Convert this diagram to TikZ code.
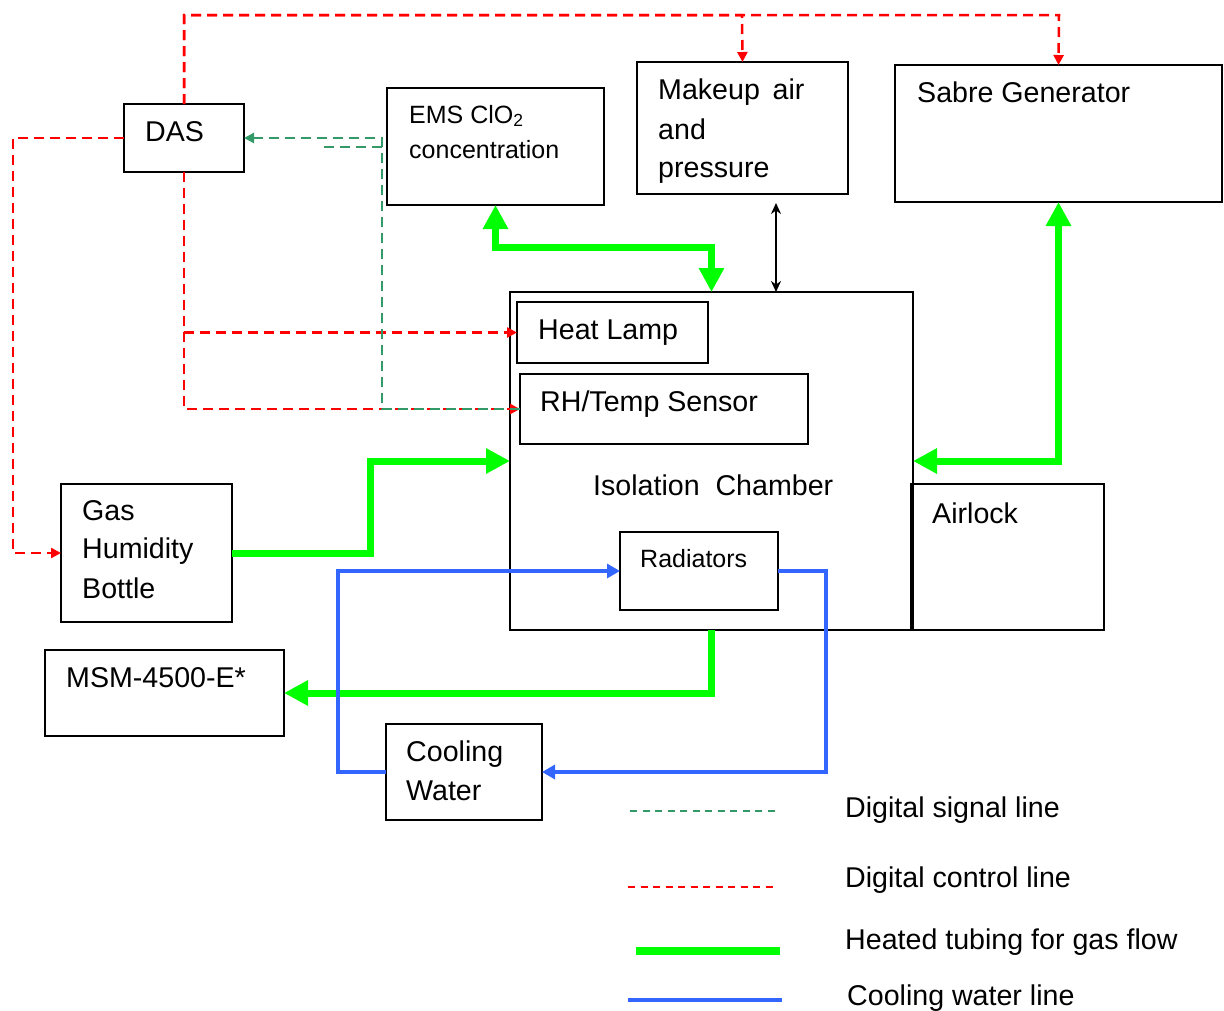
\documentclass[tikz,border=0pt]{standalone}
\usepackage{fontspec}
\setmainfont{Liberation Sans}
\usetikzlibrary{arrows.meta}
\definecolor{sigc}{RGB}{51,153,102}
\definecolor{gasg}{RGB}{0,255,0}
\definecolor{waterb}{RGB}{51,102,255}
\begin{document}
\begin{tikzpicture}[x=1pt,y=-1pt,
  box/.style={draw=black, line width=1.6pt, anchor=north west, inner sep=0pt, outer sep=0pt},
  txt/.style={anchor=base west, inner sep=0pt, font=\fontsize{28.6}{34}\selectfont},
  stxt/.style={anchor=base west, inner sep=0pt, font=\fontsize{25}{30}\selectfont},
  ctrl/.style={draw=red, line width=2.5pt, dash pattern=on 10pt off 6pt},
  ctip/.style={-{Triangle[length=10pt,width=10pt]}},
  sig/.style={draw=sigc, line width=2.5pt, dash pattern=on 10pt off 6pt},
  gas/.style={draw=gasg, line width=7pt},
  gtip/.style={-{Triangle[length=24pt,width=24pt]}},
  gtips/.style={{Triangle[length=24pt,width=24pt]}-{Triangle[length=24pt,width=24pt]}},
  water/.style={draw=waterb, line width=3.5pt},
  wtip/.style={-{Triangle[length=13pt,width=14pt]}}
]
\useasboundingbox (0,0) rectangle (1224,1010);

% boxes
\node[box, minimum width=120pt, minimum height=68pt] (das) at (124,104) {};
\node[box, minimum width=217pt, minimum height=117pt] (ems) at (387,88) {};
\node[box, minimum width=211pt, minimum height=132pt] (makeup) at (637,62) {};
\node[box, minimum width=327pt, minimum height=137pt] (sabre) at (895,65) {};
\node[box, minimum width=403pt, minimum height=338pt] (chamber) at (510,292) {};
\node[box, minimum width=191pt, minimum height=61pt] (lamp) at (517,302) {};
\node[box, minimum width=288pt, minimum height=70pt] (rh) at (520,374) {};
\node[box, minimum width=193pt, minimum height=146pt] (airlock) at (911,484) {};
\node[box, minimum width=158pt, minimum height=78pt] (rad) at (620,532) {};
\node[box, minimum width=171pt, minimum height=138pt] (gasb) at (61,484) {};
\node[box, minimum width=239pt, minimum height=86pt] (msm) at (45,650) {};
\node[box, minimum width=156pt, minimum height=96pt] (cool) at (386,724) {};

% texts
\node[txt] (tdas) at (145,141) {DAS};
\node[stxt] (tems1) at (409,123) {EMS ClO\textsubscript{2}};
\node[stxt] (tems2) at (409,158) {concentration};
\node[txt] (tmk1) at (658,99) {Makeup\ \,air};
\node[txt] (tmk2) at (658,139) {and};
\node[txt] (tmk3) at (658,177) {pressure};
\node[txt] (tsab) at (917,102) {Sabre Generator};
\node[txt] (tlamp) at (538,339) {Heat Lamp};
\node[txt] (trh) at (540,411) {RH/Temp Sensor};
\node[txt] (tiso) at (593,495) {Isolation~~Chamber};
\node[txt] (tair) at (932,523) {Airlock};
\node[stxt] (trad) at (640,567) {Radiators};
\node[txt] (tgas1) at (82,520) {Gas};
\node[txt] (tgas2) at (82,558) {Humidity};
\node[txt] (tgas3) at (82,598) {Bottle};
\node[txt] (tmsm) at (66,687) {MSM-4500-E*};
\node[txt] (tcool1) at (406,761) {Cooling};
\node[txt] (tcool2) at (406,800) {Water};

% coordinates
\coordinate (tm) at (742,15);
\coordinate (ts) at (1059,15);
\coordinate (lft) at (13,138);
\coordinate (sgc) at (382,138);
\coordinate (sga) at (382,147);
\coordinate (sgb) at (318,147);
\coordinate (gc) at (370,461);
\coordinate (mk1) at (776,203);
\coordinate (mk2) at (776,292);

% digital control lines
\draw[ctrl,ctip] (das.north) |- (tm) -- (makeup.north);
\draw[ctrl,ctip] (das.north) |- (ts) -- (sabre.north);
\draw[ctrl,ctip] (das.west) -- (lft) |- (gasb.west);
\draw[ctrl,ctip] (das.south) |- (lamp.west);
\draw[ctrl,ctip] (das.south) |- (rh.west);

% digital signal lines
\draw[sig,-{Triangle[length=10pt,width=10pt]}] (rh.west) -| (sgc) -- (das.east);
\draw[sig] (sga) -- (sgb);

% heated tubing
\draw[gas,gtips] (ems.south) -- ++(0,42) -| (chamber.north);
\draw[gas,gtip] (gasb.east) -| (gc) -- (chamber.west);
\draw[gas,gtips] (sabre.south) |- (chamber.east);
\draw[gas,gtip] (chamber.south) |- (msm.east);

% makeup air
\draw[line width=1.8pt,{Stealth[length=11pt,width=10pt]}-{Stealth[length=11pt,width=10pt]}] (mk1) -- (mk2);

% cooling water
\draw[water,wtip] (cool.west) -- ++(-48,0) |- (rad.west);
\draw[water,wtip] (rad.east) -- ++(48,0) |- (cool.east);

% legend
\coordinate (l1a) at (630,811); \coordinate (l1b) at (778,811);
\coordinate (l2a) at (628,887); \coordinate (l2b) at (776,887);
\coordinate (l3a) at (636,951); \coordinate (l3b) at (780,951);
\coordinate (l4a) at (628,1000); \coordinate (l4b) at (782,1000);
\draw[draw=sigc, line width=1.8pt, dash pattern=on 7pt off 5.5pt] (l1a) -- (l1b);
\draw[draw=red, line width=1.8pt, dash pattern=on 7pt off 5.5pt] (l2a) -- (l2b);
\draw[gas, line width=8pt] (l3a) -- (l3b);
\draw[water, line width=3.5pt] (l4a) -- (l4b);
\node[txt] (lg1) at (845,817) {Digital signal line};
\node[txt] (lg2) at (845,887) {Digital control line};
\node[txt] (lg3) at (845,949) {Heated tubing for gas flow};
\node[txt] (lg4) at (847,1005) {Cooling water line};
\end{tikzpicture}
\end{document}
